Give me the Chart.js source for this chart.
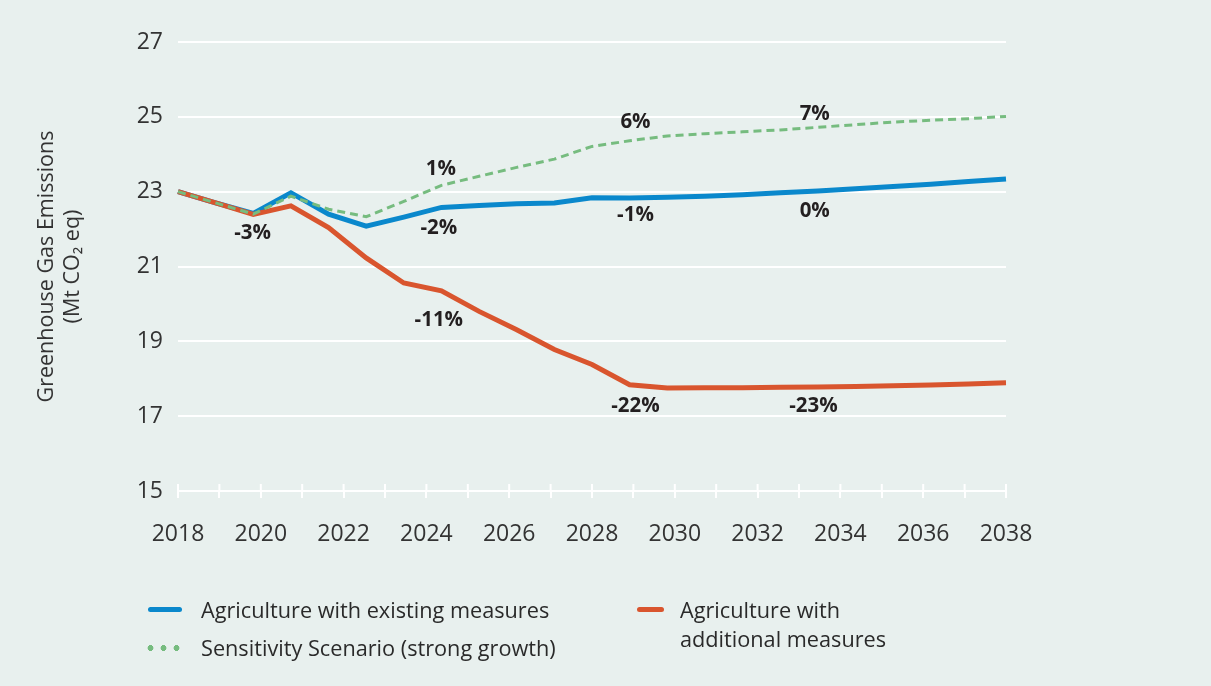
<!DOCTYPE html>
<html>
<head>
<meta charset="utf-8">
<script src="https://cdn.jsdelivr.net/npm/chart.js@4.4.0/dist/chart.umd.min.js"></script>
<style>
  html, body { margin: 0; padding: 0; background: #e8f0ee; }
  #wrap { position: relative; width: 1211px; height: 686px; font-family: "Open Sans", sans-serif; }
  canvas { position: absolute; left: 0; top: 0; }
  .leg { position: absolute; display: flex; align-items: flex-start; font-size: 21.7px; line-height: 29px; color: #2a2a2a; white-space: pre; }
  .sw { flex: none; margin-top: 12px; }
  .leg0 { left: 148px; top: 595px; }
  .leg1 { left: 144px; top: 633px; }
  .leg2 { left: 637px; top: 595px; }
</style>
</head>
<body>
<div id="wrap">
  <canvas id="chart" width="1211" height="686"></canvas>
  <div id="legend"></div>
</div>
<script>
// 23 data points spread evenly over the 2018-2038 axis
const categories = ['2018','2019','2020','2021','2022','2023','2024','2025','2026','2027','2028','2029',
  '2030','2031','2032','2033','2034','2035','2036','2037','2038','2039','2040'];

const existingMeasures = [23.0, 22.7, 22.42, 22.97, 22.4, 22.08, 22.32, 22.58, 22.63, 22.68, 22.7, 22.84,
  22.83, 22.85, 22.88, 22.92, 22.97, 23.02, 23.08, 23.14, 23.2, 23.27, 23.34];
const additionalMeasures = [23.0, 22.7, 22.39, 22.62, 22.04, 21.23, 20.56, 20.35, 19.8, 19.31, 18.78, 18.38,
  17.84, 17.75, 17.76, 17.76, 17.77, 17.78, 17.79, 17.81, 17.83, 17.86, 17.89];
const strongGrowth = [23.0, 22.7, 22.4, 22.88, 22.53, 22.33, 22.74, 23.17, 23.41, 23.65, 23.87, 24.21,
  24.36, 24.49, 24.55, 24.6, 24.65, 24.72, 24.79, 24.86, 24.91, 24.95, 25.01];

const xTickLabels = [2018, 2020, 2022, 2024, 2026, 2028, 2030, 2032, 2034, 2036, 2038];
const yTicks = [15, 17, 19, 21, 23, 25, 27];

// percentage call-outs, in axis units (year, Mt)
const pctLabels = [
  { text: '-3%', x: 2019.8, y: 21.88 },
  { text: '-2%', x: 2024.3, y: 22.02 },
  { text: '1%', x: 2024.35, y: 23.6 },
  { text: '6%', x: 2029.05, y: 24.85 },
  { text: '-1%', x: 2029.05, y: 22.37 },
  { text: '7%', x: 2033.38, y: 25.06 },
  { text: '0%', x: 2033.38, y: 22.49 },
  { text: '-11%', x: 2024.3, y: 19.56 },
  { text: '-22%', x: 2029.05, y: 17.28 },
  { text: '-23%', x: 2033.35, y: 17.28 },
];

const BLUE = '#0a88cc', RED = '#d9552e', GREEN = '#76bc7f';

const extras = {
  id: 'extras',
  beforeDatasetsDraw(chart) {
    const { ctx } = chart;
    const x2 = chart.scales.x2;
    ctx.save();
    ctx.strokeStyle = '#fff';
    ctx.lineWidth = 2;
    x2.ticks.forEach((t, i) => {
      const px = x2.getPixelForTick(i);
      ctx.beginPath();
      ctx.moveTo(px, x2.top - 7);
      ctx.lineTo(px, x2.top);
      ctx.stroke();
    });
    ctx.restore();
  },
  afterDatasetsDraw(chart) {
    const { ctx } = chart;
    const x2 = chart.scales.x2, y = chart.scales.y;
    ctx.save();
    ctx.font = 'bold 20.5px "Open Sans"';
    ctx.fillStyle = '#231f20';
    ctx.textAlign = 'center';
    ctx.textBaseline = 'middle';
    pctLabels.forEach(l => ctx.fillText(l.text, x2.getPixelForValue(l.x), y.getPixelForValue(l.y)));
    ctx.restore();
  }
};

const chart = new Chart(document.getElementById('chart'), {
  type: 'line',
  data: {
    labels: categories,
    datasets: [
      { label: 'Agriculture with existing measures', data: existingMeasures, borderColor: BLUE,
        borderWidth: 5, order: 3 },
      { label: 'Sensitivity Scenario (strong growth)', data: strongGrowth, borderColor: GREEN,
        borderWidth: 3, borderDash: [8, 5], order: 1 },
      { label: 'Agriculture with\nadditional measures', data: additionalMeasures, borderColor: RED,
        borderWidth: 5, order: 2 },
    ]
  },
  options: {
    responsive: false,
    animation: false,
    layout: { padding: { top: 42, right: 205, left: 0, bottom: 0 } },
    elements: { point: { radius: 0 }, line: { tension: 0, borderCapStyle: 'butt', borderJoinStyle: 'miter' } },
    plugins: { legend: { display: false }, tooltip: { enabled: false } },
    scales: {
      x: { type: 'category', display: false, offset: false },
      x2: {
        type: 'linear', position: 'bottom', min: 2018, max: 2038,
        afterFit: s => { s.height = 195; },
        ticks: {
          stepSize: 1, autoSkip: false, maxRotation: 0, padding: 23,
          color: '#333', font: { family: '"Open Sans"', size: 23 },
          callback: v => xTickLabels.includes(v) ? String(v) : ''
        },
        grid: { drawOnChartArea: false, drawTicks: true, tickLength: 7, color: '#fff', lineWidth: 2 },
        border: { display: true, color: '#fff', width: 2 }
      },
      y: {
        min: 15, max: 27,
        afterFit: s => { s.width = 178; },
        afterBuildTicks: s => { s.ticks = yTicks.map(v => ({ value: v })); },
        ticks: { padding: 15, color: '#333', font: { family: '"Open Sans"', size: 23 } },
        grid: { color: '#fff', lineWidth: 2, drawTicks: false },
        border: { display: false },
        title: {
          display: true, text: ['Greenhouse Gas Emissions', '(Mt CO\u2082 eq)'],
          color: '#333', font: { family: '"Open Sans"', size: 21.5, lineHeight: 1.25 },
          padding: { top: 33, bottom: 0 }
        }
      }
    }
  },
  plugins: [extras]
});

// html legend built from the datasets
const legend = document.getElementById('legend');
[0, 1, 2].forEach(i => {
  const ds = chart.data.datasets[i];
  const item = document.createElement('div');
  item.className = 'leg leg' + i;
  const sw = document.createElement('span');
  sw.className = 'sw';
  if (ds.borderDash) {
    sw.style.cssText = `width:39px;height:6px;margin-top:12px;margin-right:18px;
      background:radial-gradient(circle, ${ds.borderColor} 2.7px, transparent 3.2px) 0 0/13px 6px repeat-x;`;
  } else {
    const w = i === 2 ? 27 : 34;
    sw.style.cssText = `width:${w}px;height:5px;border-radius:3px;background:${ds.borderColor};
      margin-right:${i === 2 ? 16 : 19}px;`;
  }
  const txt = document.createElement('span');
  txt.textContent = ds.label;
  item.appendChild(sw);
  item.appendChild(txt);
  legend.appendChild(item);
});
</script>
</body>
</html>
